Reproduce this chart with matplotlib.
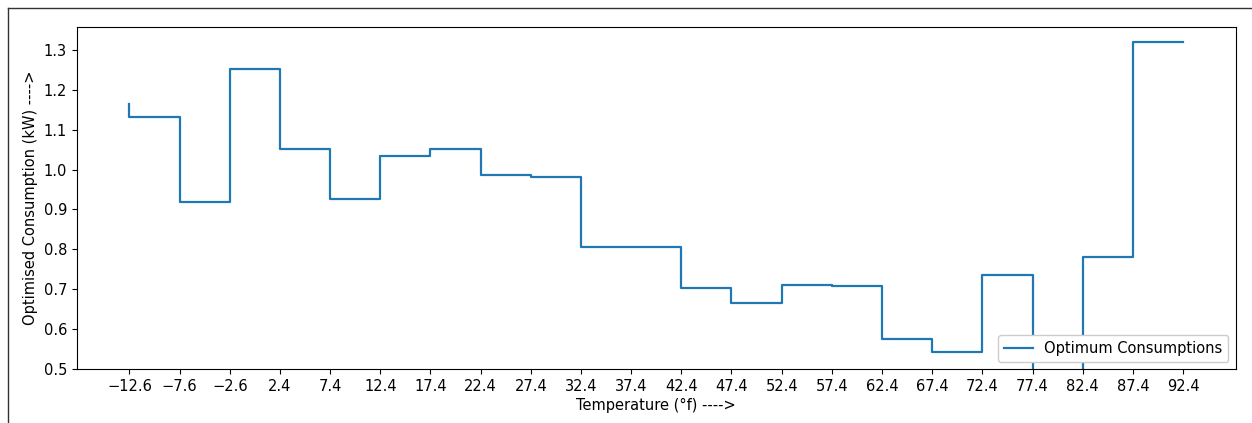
import matplotlib
matplotlib.use("Agg")
import matplotlib.pyplot as plt
from matplotlib.lines import Line2D

temperature = [-12.6, -7.6, -2.6, 2.4, 7.4, 12.4, 17.4, 22.4, 27.4, 32.4, 37.4,
               42.4, 47.4, 52.4, 57.4, 62.4, 67.4, 72.4, 77.4, 82.4, 87.4, 92.4]
consumption = [1.165, 1.131, 0.920, 1.253, 1.051, 0.926, 1.033, 1.052, 0.986, 0.981, 0.806,
               0.806, 0.704, 0.666, 0.711, 0.707, 0.574, 0.542, 0.736, 0.45, 0.781, 1.321]
tick_labels = [f"{t:.1f}".replace("-", "\u2212") for t in temperature]
series_label = "Optimum Consumptions"

fs = 10.5
fig = plt.figure(figsize=(12.52, 4.23), dpi=100)
ax = fig.add_axes([0.0613, 0.1277, 0.9257, 0.8093])
ax.step(temperature, consumption, where="pre", color="#1f77b4", lw=1.6, label=series_label)
ax.set_xticks(temperature)
ax.set_xticklabels(tick_labels)
ax.set_ylim(0.5, 1.3585)
ax.set_xlim(-17.85, 97.65)
ax.set_xlabel("Temperature (°f) ---->", fontsize=fs, labelpad=3)
ax.set_ylabel("Optimised Consumption (kW) ---->", fontsize=fs, labelpad=4)
ax.tick_params(labelsize=fs)
ax.legend(loc="lower right", fontsize=fs, framealpha=1.0)

# screenshot frame
fig.add_artist(Line2D([0.0064, 0.999], [0.981, 0.981], transform=fig.transFigure, color="#333333", lw=1))
fig.add_artist(Line2D([0.0064, 0.0064], [0.0, 0.981], transform=fig.transFigure, color="#333333", lw=1))

fig.savefig("out.png", dpi=100)
